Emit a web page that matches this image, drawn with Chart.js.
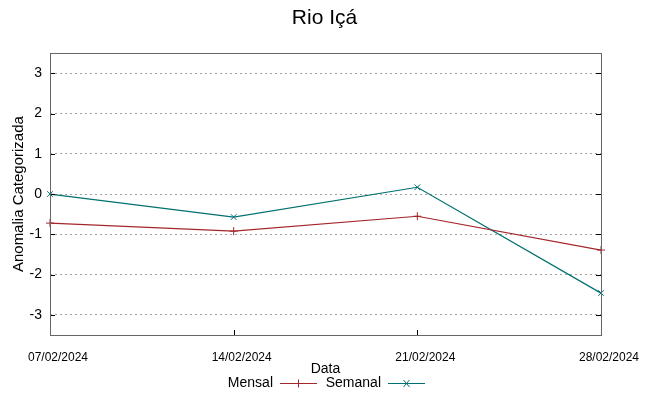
<!DOCTYPE html>
<html>
<head>
<meta charset="utf-8">
<script src="https://cdn.jsdelivr.net/npm/chart.js@4/dist/chart.umd.min.js"></script>
<style>
  html, body { margin: 0; padding: 0; background: #fff; }
  #wrap { width: 649px; height: 396px; }
</style>
</head>
<body>
<div id="wrap"><canvas id="myChart" width="649" height="396"></canvas></div>
<script>
"use strict";

// data
const dates = ["07/02/2024", "14/02/2024", "21/02/2024", "28/02/2024"];
const mensal = [-0.72, -0.92, -0.55, -1.39];
const semanal = [0.0, -0.57, 0.17, -2.46];
const yTicks = [-3, -2, -1, 0, 1, 2, 3];

const sans = "'Liberation Sans', Arial, sans-serif";
const mensalColor = "#a3262a";
const semanalColor = "#007070";

// frame, inward tick marks and the gnuplot style legend
const framePlugin = {
  id: "frame",
  afterDraw(chart) {
    const ctx = chart.ctx;
    const area = chart.chartArea;
    const xScale = chart.scales.x;
    const yScale = chart.scales.y;
    ctx.save();
    ctx.strokeStyle = "#000";
    ctx.lineWidth = 1;
    ctx.beginPath();
    yTicks.forEach((v) => {
      let py = Math.round(yScale.getPixelForValue(v)) + 0.5;
      ctx.moveTo(area.left, py);
      ctx.lineTo(area.left + 5, py);
      ctx.moveTo(area.right, py);
      ctx.lineTo(area.right - 5, py);
    });
    for (let i = 1; i < dates.length - 1; i++) {
      let px = Math.round(xScale.getPixelForValue(i)) + 0.5;
      ctx.moveTo(px, area.bottom);
      ctx.lineTo(px, area.bottom - 5);
    }
    ctx.stroke();
    ctx.strokeStyle = "#666";
    ctx.strokeRect(Math.round(area.left) + 0.5, Math.round(area.top) + 0.5,
      Math.round(area.right - area.left), Math.round(area.bottom - area.top));

    // legend
    const ly = 383;
    ctx.font = "14px " + sans;
    ctx.fillStyle = "#000";
    ctx.textAlign = "right";
    ctx.textBaseline = "middle";
    const items = [
      { text: "Mensal", end: 273, color: mensalColor, mark: "+" },
      { text: "Semanal", end: 381, color: semanalColor, mark: "x" },
    ];
    items.forEach((it) => {
      ctx.fillText(it.text, it.end, ly);
      const x0 = it.end + 7, x1 = it.end + 44, cx = (x0 + x1) / 2;
      ctx.strokeStyle = it.color;
      ctx.beginPath();
      ctx.moveTo(x0, ly + 0.5);
      ctx.lineTo(x1, ly + 0.5);
      if (it.mark === "+") {
        ctx.moveTo(cx, ly - 3.5);
        ctx.lineTo(cx, ly + 4.5);
      } else {
        ctx.moveTo(cx - 3, ly - 3);
        ctx.lineTo(cx + 3, ly + 4);
        ctx.moveTo(cx + 3, ly - 3);
        ctx.lineTo(cx - 3, ly + 4);
      }
      ctx.stroke();
    });
    ctx.restore();
  },
};

const data = {
  labels: dates,
  datasets: [
    {
      label: "Mensal",
      data: mensal,
      borderColor: mensalColor,
      backgroundColor: mensalColor,
      borderWidth: 1.2,
      pointStyle: "cross",
      pointRadius: 4,
      pointBorderWidth: 1,
      tension: 0,
    },
    {
      label: "Semanal",
      data: semanal,
      borderColor: semanalColor,
      backgroundColor: semanalColor,
      borderWidth: 1.2,
      pointStyle: "crossRot",
      pointRadius: 4,
      pointBorderWidth: 1,
      tension: 0,
    },
  ],
};

const config = {
  type: "line",
  data: data,
  plugins: [framePlugin],
  options: {
    responsive: false,
    animation: false,
    layout: { padding: 0 },
    plugins: {
      legend: { display: false },
      tooltip: { enabled: false },
      title: {
        display: true,
        text: "Rio Içá",
        color: "#000",
        font: { family: sans, size: 21, weight: "normal" },
        padding: { top: 6, bottom: 22 },
      },
    },
    scales: {
      x: {
        type: "category",
        offset: false,
        grid: { display: false, drawTicks: false },
        border: { display: false },
        afterFit(scale) { scale.height = 61; },
        ticks: {
          color: "#000",
          maxRotation: 0,
          autoSkip: false,
          padding: 15,
          labelOffset: 8,
          font: { family: sans, size: 12 },
        },
        title: {
          display: true,
          text: "Data",
          color: "#000",
          font: { family: sans, size: 14 },
          padding: { top: 0, bottom: 18 },
        },
      },
      y: {
        min: -3.5,
        max: 3.5,
        afterFit(scale) { scale.width = 50; },
        afterBuildTicks(scale) { scale.ticks = yTicks.map((v) => ({ value: v })); },
        grid: {
          color: "#a0a0a0",
          drawTicks: false,
          lineWidth: 1,
        },
        border: { display: false, dash: [2, 3] },
        ticks: {
          color: "#000",
          padding: 8,
          font: { family: sans, size: 14 },
        },
        title: {
          display: true,
          text: "Anomalia Categorizada",
          color: "#000",
          font: { family: sans, size: 15 },
          padding: { top: 10, bottom: 0 },
        },
      },
      // empty right axis, only keeps the plot 48px from the right edge
      yRight: {
        position: "right",
        min: -3.5,
        max: 3.5,
        afterFit(scale) { scale.width = 48; },
        grid: { display: false, drawTicks: false },
        border: { display: false },
        ticks: { display: false },
      },
    },
  },
};

const canvasChart = document.getElementById("myChart");
new Chart(canvasChart, config);
</script>
</body>
</html>
